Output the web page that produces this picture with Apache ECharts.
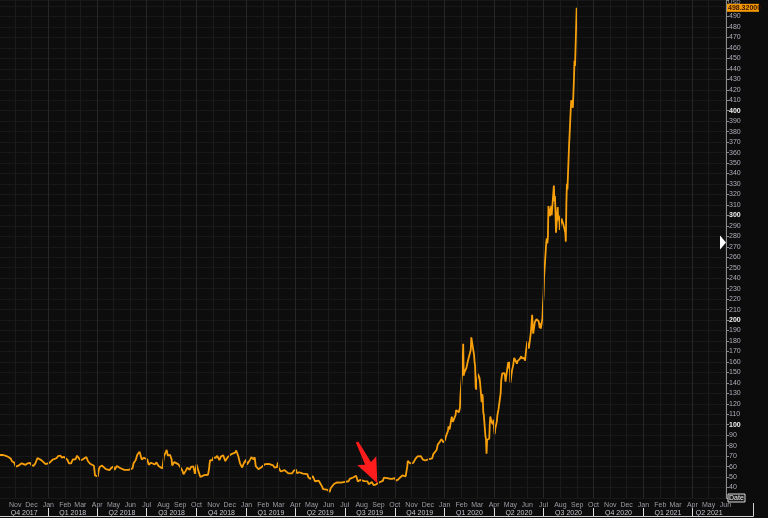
<!DOCTYPE html>
<html><head><meta charset="utf-8">
<script src="https://cdn.jsdelivr.net/npm/echarts@6/dist/echarts.min.js"></script>
<style>html,body{margin:0;padding:0;background:#0c0c0c;overflow:hidden}#c{width:768px;height:518px}</style>
</head><body><div id="c"></div><script>
// ---- data (split-adjusted close, USD) ----
const d2017 = ['10-04','10-06','10-10','10-12','10-16','10-18','10-20','10-24','10-26','10-30',
 '11-02','11-06','11-09','11-13','11-16','11-20','11-24','11-28','12-01','12-05',
 '12-08','12-12','12-15','12-19','12-22','12-27','12-29'];
const p2017 = [71.1,71.4,71.1,71.1,70.1,71.9,69.0,67.5,65.2,64.0,
 59.9,60.6,60.6,63.1,62.5,61.7,63.1,63.6,61.3,60.7,
 63.0,68.2,68.7,66.2,65.0,62.3,62.3];

const d2018 = ['01-03','01-05','01-09','01-11','01-16','01-19','01-23','01-26','01-30','02-01',
 '02-05','02-08','02-12','02-15','02-20','02-23','02-26','03-01','03-05','03-08',
 '03-12','03-15','03-19','03-22','03-26','03-28','04-02','04-04','04-06','04-10',
 '04-13','04-17','04-20','04-24','04-27','05-01','05-03','05-07','05-10','05-14',
 '05-17','05-21','05-24','05-29','06-01','06-05','06-07','06-11','06-14','06-18',
 '06-20','06-22','06-26','06-28','07-02','07-05','07-09','07-12','07-16','07-19',
 '07-23','07-26','07-30','08-02','08-07','08-09','08-13','08-16','08-17','08-21',
 '08-24','08-28','08-31','09-05','09-07','09-11','09-14','09-18','09-21','09-25',
 '09-27','09-28','10-01','10-04','10-08','10-11','10-15','10-18','10-22','10-24',
 '10-25','10-26','10-30','11-01','11-05','11-08','11-12','11-15','11-19','11-23',
 '11-27','11-30','12-04','12-07','12-11','12-13','12-17','12-20','12-24','12-27',
 '12-31'];
const p2018 = [63.5,63.3,66.7,67.4,68.0,70.0,70.6,68.6,69.2,69.9,
 66.6,63.0,63.1,66.8,67.0,70.4,71.5,66.2,66.7,65.8,
 69.1,65.1,62.7,61.8,60.8,51.6,50.5,57.4,59.9,60.9,
 60.1,57.5,58.0,56.7,58.8,60.0,56.9,60.6,61.0,58.4,
 56.8,56.9,55.6,56.8,58.4,58.3,63.2,66.4,71.5,74.2,
 72.4,66.7,68.4,70.0,67.0,61.8,63.7,63.3,62.0,64.0,
 60.6,61.3,58.2,69.9,75.9,70.5,71.3,67.1,61.1,64.3,
 64.6,62.4,60.3,56.1,52.6,55.9,59.0,57.0,59.8,60.2,
 61.5,53.0,62.1,56.4,50.1,51.8,51.9,52.8,52.2,57.7,
 63.0,66.2,66.0,68.9,68.3,70.3,66.3,69.7,70.9,65.2,
 68.8,70.1,71.9,71.6,73.4,75.4,69.7,63.1,59.1,63.2,
 66.6];

const d2019 = ['01-02','01-04','01-08','01-10','01-14','01-16','01-18','01-23','01-25','01-29',
 '01-31','02-04','02-07','02-11','02-14','02-19','02-22','02-26','02-28','03-01',
 '03-05','03-08','03-12','03-15','03-19','03-22','03-26','03-29','04-02','04-04',
 '04-08','04-11','04-15','04-18','04-23','04-25','04-29','05-01','05-03','05-07',
 '05-10','05-14','05-16','05-20','05-22','05-24','05-29','06-03','06-05','06-07',
 '06-11','06-13','06-17','06-20','06-24','06-27','07-01','07-03','07-08','07-10',
 '07-12','07-16','07-18','07-22','07-24','07-25','07-29','07-31','08-02','08-06',
 '08-08','08-12','08-14','08-16','08-20','08-23','08-27','08-29','09-03','09-05',
 '09-09','09-11','09-13','09-17','09-19','09-23','09-25','09-27','10-01','10-03',
 '10-07','10-09','10-11','10-15','10-17','10-21','10-23','10-24','10-25','10-29',
 '10-31','11-04','11-06','11-08','11-12','11-14','11-18','11-20','11-22','11-26',
 '11-29','12-03','12-05','12-09','12-11','12-13','12-17','12-19','12-23','12-26',
 '12-30'];
const p2019 = [62.0,63.5,66.9,69.0,66.9,68.9,60.5,57.5,59.4,59.6,
 61.4,62.4,61.5,62.6,60.7,61.1,58.9,59.8,64.0,59.0,
 55.3,56.8,56.7,55.1,53.5,52.9,53.6,56.0,57.2,53.6,
 54.6,53.5,53.3,54.7,52.8,49.5,48.3,46.8,51.0,46.0,
 47.9,46.5,45.7,41.1,38.5,38.1,38.0,35.8,39.3,40.9,
 43.4,41.9,44.9,43.9,44.7,43.9,45.4,47.0,46.0,48.3,
 49.1,49.6,50.7,51.1,53.0,45.8,47.2,48.3,46.9,46.2,
 47.7,45.8,43.1,44.0,45.2,42.3,42.8,44.3,45.0,45.9,
 46.4,49.4,49.0,49.0,49.3,48.2,49.3,48.4,48.9,46.6,
 47.5,48.2,49.6,51.6,52.4,50.7,50.9,59.9,65.6,63.2,
 63.0,63.5,65.3,67.4,69.8,69.9,70.0,70.4,66.6,65.8,
 66.0,67.2,66.1,67.9,71.9,71.7,75.8,80.8,83.8,86.2,
 82.9];

const d2020 = ['01-02','01-03','01-06','01-07','01-08','01-10','01-13','01-14','01-16','01-17',
 '01-21','01-22','01-24','01-27','01-28','01-29','01-30','01-31','02-03','02-04',
 '02-05','02-06','02-07','02-10','02-11','02-12','02-13','02-14','02-18','02-19',
 '02-20','02-21','02-24','02-25','02-26','02-27','02-28','03-02','03-03','03-04',
 '03-05','03-06','03-09','03-10','03-11','03-12','03-13','03-16','03-17','03-18',
 '03-19','03-20','03-23','03-24','03-25','03-26','03-27','03-30','03-31','04-01',
 '04-02','04-03','04-06','04-07','04-08','04-09','04-13','04-14','04-15','04-16',
 '04-17','04-20','04-21','04-22','04-23','04-24','04-27','04-28','04-29','04-30',
 '05-01','05-04','05-05','05-06','05-07','05-08','05-11','05-12','05-13','05-14',
 '05-15','05-18','05-19','05-20','05-21','05-22','05-26','05-27','05-28','05-29',
 '06-01','06-02','06-03','06-04','06-05','06-08','06-09','06-10','06-11','06-12',
 '06-15','06-16','06-17','06-18','06-19','06-22','06-23','06-24','06-25','06-26',
 '06-29','06-30','07-01','07-02','07-06','07-07','07-08','07-09','07-10','07-13',
 '07-14','07-15','07-16','07-17','07-20','07-21','07-22','07-23','07-24','07-27',
 '07-28','07-29','07-30','07-31','08-03','08-04','08-05','08-06','08-07','08-10',
 '08-11','08-12','08-13','08-14','08-17','08-18','08-19','08-20','08-21','08-24',
 '08-25','08-26','08-27','08-28','08-31'];
const p2020 = [86.1,88.6,90.3,94.0,98.4,95.6,105.0,107.6,102.7,102.1,
 109.4,113.9,113.0,112.0,113.4,116.2,128.2,130.1,156.0,177.4,
 146.9,149.8,149.6,154.3,154.9,154.9,161.6,160.0,171.7,183.5,
 179.9,180.2,166.8,160.0,155.8,135.8,133.6,148.7,149.1,149.9,
 144.9,140.7,121.6,129.1,126.8,112.1,109.3,89.0,86.0,72.2,
 85.5,85.5,86.9,101.0,107.8,105.6,102.9,100.4,104.8,96.3,
 90.9,96.0,103.2,109.1,109.8,114.6,130.2,142.0,146.0,149.0,
 150.8,149.3,146.4,141.1,145.6,145.0,159.8,153.8,160.1,156.4,
 140.3,152.2,153.6,156.5,156.0,163.9,162.3,161.9,158.3,160.7,
 159.8,162.7,161.8,163.1,165.5,163.4,163.8,164.0,161.2,167.0,
 179.6,176.3,176.4,172.9,177.1,190.0,188.1,205.0,194.6,187.1,
 198.2,196.4,198.4,200.8,200.2,198.9,200.4,192.2,197.2,191.9,
 201.9,216.0,223.9,241.7,274.3,278.0,273.2,278.9,308.9,299.4,
 303.4,309.2,300.1,300.2,328.6,313.7,318.5,302.6,283.4,307.9,
 295.3,299.8,297.5,286.2,297.0,297.4,297.0,297.9,290.5,283.7,
 274.9,311.0,330.1,324.7,367.1,377.4,375.7,400.4,410.0,402.8,
 404.7,430.6,447.8,442.7,498.32];

const lastPrice = 498.32;
const lastPriceText = '498.32000';
const markerLevel = 274;
const monthNames = ['Jan','Feb','Mar','Apr','May','Jun','Jul','Aug','Sep','Oct','Nov','Dec'];
const axisStart = '2017-10-04';
const axisEnd = '2021-06-02';
const arrowPoint = ['2019-08-12', 64];

// ---- helpers ----
function ts(s){ const a = s.split('-').map(Number); return Date.UTC(a[0], a[1]-1, a[2]); }
const series = [];
[[2017,d2017,p2017],[2018,d2018,p2018],[2019,d2019,p2019],[2020,d2020,p2020]].forEach(([y,d,p])=>{
  if (d.length !== p.length) console.error('length mismatch', y, d.length, p.length);
  d.forEach((md,i)=>series.push([ts(y+'-'+md), p[i]]));
});
const xMin = ts(axisStart), xMax = ts(axisEnd);
const monthStarts = [], quarterStarts = [], quarterMids = [];
for (let y = 2017; y <= 2021; y++) {
  for (let m = 0; m < 12; m++) {
    const t = Date.UTC(y, m, 1);
    if (t > xMin && t < xMax) monthStarts.push(t);
    if (m % 3 === 0) {
      const qs = Date.UTC(y, m, 1), qe = Date.UTC(y, m+3, 1);
      if (qs > xMin && qs < xMax) quarterStarts.push(qs);
      const a = Math.max(qs, xMin), b = Math.min(qe, xMax);
      if (b > a) quarterMids.push((a+b)/2);
    }
  }
}
const quarterStartSet = new Set(quarterStarts);
const FONT = 'Liberation Sans, Arial, sans-serif';

const chart = echarts.init(document.getElementById('c'), null, {renderer:'canvas'});
const option = {
  animation: false,
  backgroundColor: '#0c0c0c',
  grid: {left: 0, right: 42, top: 0, bottom: 20, show: true, backgroundColor: '#0d0d0d', borderWidth: 0},
  xAxis: [{
    type: 'value', min: xMin, max: xMax, position: 'bottom', scale: true,
    axisLine: {show: false},
    axisTick: {show: false},
    splitLine: {show: false},
    axisLabel: {customValues: monthStarts, hideOverlap: false, margin: 4, fontSize: 7,
      fontFamily: FONT, color: '#9c9ca6',
      formatter: v => monthNames[new Date(v).getUTCMonth()]}
  },{
    type: 'value', min: xMin, max: xMax, position: 'bottom', offset: 10, scale: true,
    axisLine: {show: false},
    axisTick: {show: true, customValues: quarterStarts, length: 9, lineStyle: {color: '#e0e0e0', width: 1}},
    splitLine: {show: false},
    axisLabel: {customValues: quarterMids, hideOverlap: false, margin: 2, fontSize: 7,
      fontFamily: FONT, color: '#c4c4cc',
      formatter: v => { const d = new Date(v); return 'Q' + (Math.floor(d.getUTCMonth()/3)+1) + ' ' + d.getUTCFullYear(); }}
  }],
  yAxis: {
    type: 'value', position: 'right', min: 30, max: 505.8, interval: 10,
    axisLine: {show: true, lineStyle: {color: '#8c8c8c'}},
    axisTick: {show: true, length: 3, lineStyle: {color: '#8c8c8c'}},
    splitLine: {show: true, lineStyle: {color: '#181818', width: 1}},
    axisLabel: {margin: 3, fontSize: 7, fontFamily: FONT, color: '#aeaeba',
      formatter: v => (v < 35 || v > 495) ? '' : (v % 100 === 0 ? '{b|' + v + '}' : String(v)),
      rich: {b: {fontWeight: 'bold', color: '#f0f0f0', fontSize: 7, fontFamily: FONT}}}
  },
  series: [{
    type: 'line', data: [], z: 1, silent: true, xAxisIndex: 0,
    markLine: {silent: true, symbol: 'none', label: {show: false}, animation: false,
      data: monthStarts.map(t => ({xAxis: t, lineStyle: {color: quarterStartSet.has(t) ? '#262626' : '#1b1b1b', width: 1, type: 'solid'}}))}
  },{
    type: 'line', data: series, z: 3, showSymbol: false, clip: true, xAxisIndex: 0,
    lineStyle: {color: '#f7a00c', width: 1.8},
    markPoint: {silent: true, animation: false,
      data: [{coord: [ts(arrowPoint[0]), arrowPoint[1]],
        symbol: 'path://M9,0 L12,0 L15,24 L23,21 L11.5,46 L0,21 L8,24 Z',
        symbolSize: [21, 46], symbolRotate: 25,
        itemStyle: {color: '#ff1c1c'}, label: {show: false}}]}
  }]
};
chart.setOption(option);

const yLast = chart.convertToPixel({yAxisIndex: 0}, lastPrice);
const yMark = chart.convertToPixel({yAxisIndex: 0}, markerLevel);
const xAxisPx = chart.convertToPixel({xAxisIndex: 0}, xMax);
chart.setOption({graphic: [
  {type: 'text', x: xAxisPx + 2, y: -1, z: 10,
    style: {text: 'USD', fontSize: 6, fill: '#a8a8b0', fontFamily: FONT}},
  {type: 'rect', shape: {x: xAxisPx + 1, y: yLast - 4, width: 32, height: 8}, z: 10,
    style: {fill: '#f29a00'}},
  {type: 'text', x: xAxisPx + 2, y: yLast - 3.5, z: 11,
    style: {text: lastPriceText, fontSize: 7, fill: '#3a1400', fontWeight: 'bold', fontFamily: FONT}},
  {type: 'polygon', z: 10, shape: {points: [[xAxisPx - 6, yMark - 7], [xAxisPx, yMark], [xAxisPx - 6, yMark + 7]]},
    style: {fill: '#ffffff'}},
  {type: 'rect', shape: {x: xAxisPx + 2, y: 494, width: 17, height: 8}, z: 10,
    style: {fill: '#1a1a1a', stroke: '#d8d8d8', lineWidth: 1}},
  {type: 'text', x: xAxisPx + 3, y: 494.5, z: 11,
    style: {text: 'Date', fontSize: 7, fill: '#f0f0f0', fontFamily: FONT}},
  {type: 'polyline', z: 10, shape: {points: [[0, 516.5], [753.5, 516.5], [753.5, 503]]},
    style: {stroke: '#cfcfcf', lineWidth: 1, fill: null}}
]});
</script></body></html>
